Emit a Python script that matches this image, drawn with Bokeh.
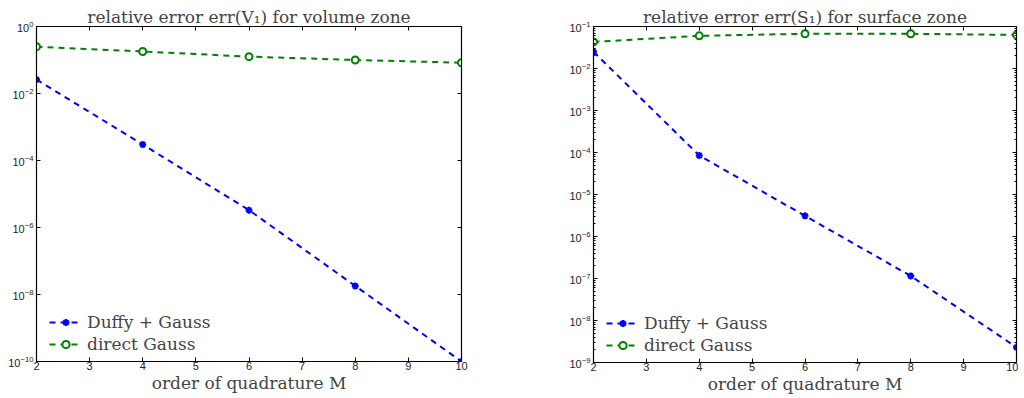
from bokeh.plotting import figure
from bokeh.layouts import row
from bokeh.models import FixedTicker, LogAxis, LinearAxis, Legend, LegendItem, CustomJSTickFormatter
from bokeh.embed import file_html
from bokeh.resources import INLINE

M = [2, 4, 6, 8, 10]
vol_duffy = [2.6e-2, 3.0e-4, 3.3e-6, 1.8e-8, 1.0e-10]
vol_direct = [0.25, 0.18, 0.126, 0.10, 0.083]
surf_duffy = [2.5e-2, 8.5e-5, 3.1e-6, 1.15e-7, 2.3e-9]
surf_direct = [0.043, 0.060, 0.067, 0.067, 0.063]

titles = ["relative error err(V\u2081) for volume zone",
          "relative error err(S\u2081) for surface zone"]
xlabel = "order of quadrature M"
labels = ["Duffy + Gauss", "direct Gauss"]
x_ticks = [2, 3, 4, 5, 6, 7, 8, 9, 10]
y_ticks_vol = [1e0, 1e-2, 1e-4, 1e-6, 1e-8, 1e-10]
y_ticks_surf = [1e-1, 1e-2, 1e-3, 1e-4, 1e-5, 1e-6, 1e-7, 1e-8, 1e-9]
surf_minor = [k * d for d in y_ticks_surf[1:] for k in range(2, 10)]

SERIF = "DejaVu Serif"
SANS = "Liberation Sans"


def make(title, duffy, direct, yr, yticks, yminor, fw, fh, bl, br, bt, bb):
    p = figure(frame_width=fw, frame_height=fh, y_axis_type="log",
               x_range=(2, 10), y_range=yr,
               output_backend="svg", toolbar_location=None,
               min_border_left=bl, min_border_right=br,
               min_border_top=bt, min_border_bottom=bb)
    p.title.text = title
    p.title.align = "center"
    p.title.text_font = SERIF
    p.title.text_font_size = "17px"
    p.title.text_font_style = "normal"
    p.title.standoff = 0
    p.title.offset = 0
    p.xgrid.visible = False
    p.ygrid.visible = False
    p.outline_line_color = "black"
    p.outline_line_width = 1.2

    blank = CustomJSTickFormatter(code="return ''")
    p.add_layout(LogAxis(formatter=blank, major_label_standoff=0), "right")
    p.add_layout(LinearAxis(formatter=blank, major_label_standoff=0), "above")
    for ax in p.xaxis:
        ax.ticker = FixedTicker(ticks=x_ticks)
    for ax in p.yaxis:
        ax.ticker = FixedTicker(ticks=yticks, minor_ticks=yminor)
    for ax in p.axis:
        ax.major_tick_in = 4
        ax.major_tick_out = 0
        ax.minor_tick_in = 2
        ax.minor_tick_out = 0
        ax.minor_tick_line_color = "black"
        ax.axis_line_color = "black"
        ax.major_tick_line_color = "black"
        ax.major_label_text_font = SANS
        ax.major_label_text_font_size = "11px"
        ax.major_label_text_color = "#222222"
    p.left[0].major_label_standoff = 3
    p.below[0].major_label_standoff = 0
    p.below[0].axis_label = xlabel
    p.below[0].axis_label_text_font = SERIF
    p.below[0].axis_label_text_font_size = "17px"
    p.below[0].axis_label_text_font_style = "normal"
    p.below[0].axis_label_standoff = 0

    l1 = p.line(M, duffy, line_color="#0000ff", line_width=2, line_dash="6 5")
    m1 = p.scatter(M, duffy, marker="asterisk", size=7, line_color="#0000ff", line_width=2)
    l2 = p.line(M, direct, line_color="#008000", line_width=2, line_dash="6 5")
    m2 = p.scatter(M, direct, marker="circle", size=7, line_color="#008000",
                   fill_color="white", line_width=2)
    leg = Legend(items=[LegendItem(label=labels[0], renderers=[l1, m1]),
                        LegendItem(label=labels[1], renderers=[l2, m2])],
                 location=(13, 7), border_line_color=None,
                 background_fill_alpha=0, label_text_font=SERIF,
                 label_text_font_size="17px", glyph_width=33, glyph_height=18,
                 spacing=2, padding=0, margin=0, label_standoff=5)
    p.add_layout(leg)
    return p


p1 = make(titles[0], vol_duffy, vol_direct, (1e-10, 1e0), y_ticks_vol, [],
          425, 335, 36, 19, 26, 31)
p2 = make(titles[1], surf_duffy, surf_direct, (1e-9, 1e-1), y_ticks_surf, surf_minor,
          423, 336, 113, 2, 25, 31)
layout = row(p1, p2)

open("out.html", "w").write(file_html(layout, INLINE))
